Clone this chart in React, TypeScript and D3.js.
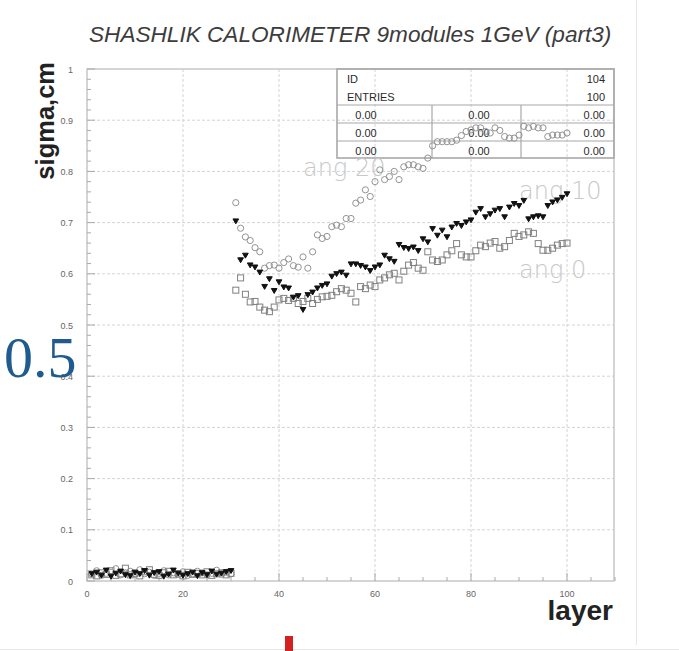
import React from "react";
import * as d3 from "d3";

// ---------- data ----------
const title = "SHASHLIK CALORIMETER 9modules 1GeV (part3)";
const xTicks = [0, 20, 40, 60, 80, 100];
const yTicks = [0, 0.1, 0.2, 0.3, 0.4, 0.5, 0.6, 0.7, 0.8, 0.9, 1];
const yTickLabels = ["0", "0.1", "0.2", "0.3", "0.4", "0.5", "0.6", "0.7", "0.8", "0.9", "1"];

// layers 1..100
const layers = d3.range(1, 101);

// ang 0 (open squares)
const ang0Low = [0.012, 0.010, 0.016, 0.013, 0.020, 0.011, 0.014, 0.025, 0.012, 0.015, 0.010, 0.018, 0.022, 0.013, 0.011, 0.016, 0.019, 0.012, 0.014, 0.010, 0.017, 0.013, 0.015, 0.012, 0.018, 0.011, 0.014, 0.016, 0.012, 0.015];
const ang0High = [0.568, 0.592, 0.560, 0.545, 0.546, 0.535, 0.529, 0.526, 0.535, 0.549, 0.552, 0.548, 0.552, 0.542, 0.546, 0.552, 0.542, 0.550, 0.555, 0.556, 0.558, 0.565, 0.571, 0.568, 0.562, 0.545, 0.575, 0.571, 0.578, 0.575, 0.588, 0.592, 0.598, 0.601, 0.588, 0.605, 0.617, 0.622, 0.611, 0.607, 0.643, 0.627, 0.624, 0.627, 0.637, 0.645, 0.659, 0.637, 0.633, 0.633, 0.645, 0.656, 0.653, 0.660, 0.663, 0.650, 0.653, 0.665, 0.679, 0.673, 0.676, 0.682, 0.679, 0.659, 0.646, 0.646, 0.650, 0.656, 0.659, 0.660];

// ang 10 (filled black)
const ang10Low = [0.015, 0.018, 0.012, 0.022, 0.010, 0.016, 0.020, 0.013, 0.011, 0.018, 0.015, 0.021, 0.012, 0.017, 0.019, 0.010, 0.014, 0.022, 0.016, 0.012, 0.015, 0.018, 0.011, 0.017, 0.013, 0.020, 0.014, 0.016, 0.019, 0.021];
const ang10High = [0.704, 0.628, 0.637, 0.618, 0.614, 0.604, 0.576, 0.591, 0.568, 0.585, 0.575, 0.573, 0.555, 0.558, 0.531, 0.560, 0.565, 0.573, 0.578, 0.581, 0.596, 0.601, 0.604, 0.598, 0.620, 0.620, 0.617, 0.614, 0.607, 0.614, 0.618, 0.637, 0.630, 0.625, 0.658, 0.652, 0.650, 0.653, 0.646, 0.669, 0.663, 0.689, 0.676, 0.686, 0.673, 0.692, 0.699, 0.695, 0.702, 0.706, 0.721, 0.728, 0.712, 0.718, 0.725, 0.728, 0.712, 0.731, 0.738, 0.734, 0.744, 0.708, 0.712, 0.714, 0.712, 0.734, 0.741, 0.745, 0.750, 0.757];

// ang 20 (open circles)
const ang20Low = [0.014, 0.020, 0.011, 0.015, 0.017, 0.024, 0.012, 0.016, 0.019, 0.013, 0.022, 0.014, 0.017, 0.011, 0.015, 0.020, 0.012, 0.016, 0.013, 0.018, 0.011, 0.014, 0.019, 0.016, 0.012, 0.015, 0.021, 0.013, 0.017, 0.014];
const ang20High = [0.739, 0.689, 0.672, 0.665, 0.651, 0.643, 0.611, 0.616, 0.617, 0.611, 0.622, 0.629, 0.616, 0.613, 0.633, 0.611, 0.643, 0.676, 0.669, 0.673, 0.692, 0.695, 0.692, 0.708, 0.708, 0.738, 0.744, 0.764, 0.751, 0.780, 0.803, 0.784, 0.790, 0.800, 0.784, 0.809, 0.813, 0.813, 0.809, 0.806, 0.826, 0.850, 0.858, 0.858, 0.858, 0.858, 0.861, 0.870, 0.878, 0.881, 0.885, 0.885, 0.878, 0.875, 0.885, 0.880, 0.868, 0.865, 0.865, 0.871, 0.888, 0.885, 0.888, 0.885, 0.885, 0.868, 0.871, 0.871, 0.871, 0.875];

const ang0 = [...ang0Low, ...ang0High];
const ang10 = [...ang10Low, ...ang10High];
const ang20 = [...ang20Low, ...ang20High];

const statsRows = [
  ["0.00", "0.00", "0.00"],
  ["0.00", "0.00", "0.00"],
  ["0.00", "0.00", "0.00"],
];

// ---------- chart ----------
export default function App() {
  const W = 679, H = 651;
  const x = d3.scaleLinear().domain([0, 110]).range([87, 615]);
  const y = d3.scaleLinear().domain([0, 1]).range([581, 69]);
  const x0 = x(0), x1 = 614, yb = y(0), yt = y(1);

  const yMinor = d3.range(0, 1.0001, 0.02);
  const xMinor = d3.range(0, 110.01, 5);
  const tri = d3.symbol().type(d3.symbolTriangle).size(14)();

  const font = "'Liberation Sans', Arial, Helvetica, sans-serif";

  return (
    <svg width={W} height={H} style={{ position: "absolute", left: 0, top: 0, background: "#fff" }} fontFamily={font}>
      <rect x={0} y={0} width={W} height={H} fill="#fff" />
      {/* page border hints */}
      <line x1={636.5} y1={0} x2={636.5} y2={645} stroke="#e6e6e6" strokeWidth={1} />
      <line x1={0} y1={649.5} x2={W} y2={649.5} stroke="#e6e6e6" strokeWidth={1} />

      {/* title */}
      <text x={89} y={42} fontSize={22.6} fontStyle="italic" fill="#3c3c3c">{title}</text>

      {/* grid */}
      {xTicks.slice(1).map((t) => (
        <line key={"gx" + t} x1={x(t)} x2={x(t)} y1={yt} y2={yb} stroke="#d4d4d4" strokeDasharray="3,2" strokeWidth={1} />
      ))}
      {yTicks.slice(1, -1).map((t) => (
        <line key={"gy" + t} x1={x0} x2={x1} y1={y(t)} y2={y(t)} stroke="#d4d4d4" strokeDasharray="3,2" strokeWidth={1} />
      ))}

      {/* frame */}
      <rect x={x0} y={yt} width={x1 - x0} height={yb - yt} fill="none" stroke="#c4c4c4" strokeWidth={1.4} />

      {/* minor/major ticks */}
      {yMinor.map((t, i) => {
        const major = i % 5 === 0;
        return <line key={"ty" + i} x1={x0} x2={x0 + (major ? 8 : 4)} y1={y(t)} y2={y(t)} stroke="#aaa" strokeWidth={1} />;
      })}
      {xMinor.map((t, i) => {
        const major = i % 4 === 0;
        return <line key={"tx" + i} x1={x(t)} x2={x(t)} y1={yb} y2={yb - (major ? 8 : 4)} stroke="#aaa" strokeWidth={1} />;
      })}

      {/* tick labels */}
      {yTicks.map((t, i) => (
        <text key={"ly" + t} x={73} y={y(t) + 3.5} fontSize={9} fill="#666" textAnchor="end">{yTickLabels[i]}</text>
      ))}
      {xTicks.map((t) => (
        <text key={"lx" + t} x={x(t)} y={597} fontSize={9} fill="#666" textAnchor="middle">{t}</text>
      ))}

      {/* axis titles */}
      <text transform="translate(54,62) rotate(-90)" fontSize={25.5} fontWeight="bold" fill="#222" textAnchor="end">sigma,cm</text>
      <text x={613} y={620} fontSize={28} fontWeight="bold" fill="#222" textAnchor="end">layer</text>

      {/* stats box */}
      <g stroke="#a8a8a8" fill="none">
        <rect x={337} y={yt} width={x1 - 337} height={158 - yt} strokeWidth={1.6} />
        <line x1={337} x2={x1} y1={105} y2={105} strokeWidth={1.2} />
        <line x1={337} x2={x1} y1={123} y2={123} strokeWidth={1.2} />
        <line x1={337} x2={x1} y1={141} y2={141} strokeWidth={1.2} />
        <line x1={432} x2={432} y1={105} y2={158} strokeWidth={1.2} />
        <line x1={521} x2={521} y1={105} y2={158} strokeWidth={1.2} />
      </g>
      <g fontSize={11} fill="#2a2a2a">
        <text x={347} y={83}>ID</text>
        <text x={605} y={83} textAnchor="end">104</text>
        <text x={347} y={101}>ENTRIES</text>
        <text x={605} y={101} textAnchor="end">100</text>
        {statsRows.map((r, i) => (
          <g key={"sr" + i}>
            <text x={366} y={119 + i * 18} textAnchor="middle">{r[0]}</text>
            <text x={479} y={119 + i * 18} textAnchor="middle">{r[1]}</text>
            <text x={605} y={119 + i * 18} textAnchor="end">{r[2]}</text>
          </g>
        ))}
      </g>

      {/* curve labels */}
      <g fontSize={24} fill="#c8c8c8" fontFamily="'DejaVu Sans', sans-serif" fontWeight={200}>
        <text x={303} y={176}>ang 20</text>
        <text x={519} y={199}>ang 10</text>
        <text x={519} y={278}>ang 0</text>
      </g>

      {/* data: ang 20 circles */}
      {layers.map((l, i) => (
        <circle key={"c" + l} cx={x(l)} cy={y(ang20[i])} r={3.1} fill="none" stroke="#939393" strokeWidth={1} />
      ))}
      {/* data: ang 0 squares */}
      {layers.map((l, i) => (
        <rect key={"s" + l} x={x(l) - 3} y={y(ang0[i]) - 3} width={6} height={6} fill="none" stroke="#808080" strokeWidth={1} />
      ))}
      {/* data: ang 10 filled */}
      {layers.map((l, i) => (
        <path key={"t" + l} d={tri} transform={`translate(${x(l)},${y(ang10[i])}) rotate(180)`} fill="#111" stroke="#111" strokeWidth={1} />
      ))}

      {/* overlay stray label */}
      <text x={4} y={377} fontSize={58} fontFamily="'Liberation Serif', 'Times New Roman', serif" fill="#1f5b8e">0.5</text>

      {/* red mark */}
      <rect x={285} y={636} width={8} height={15} fill="#d42020" />
    </svg>
  );
}
